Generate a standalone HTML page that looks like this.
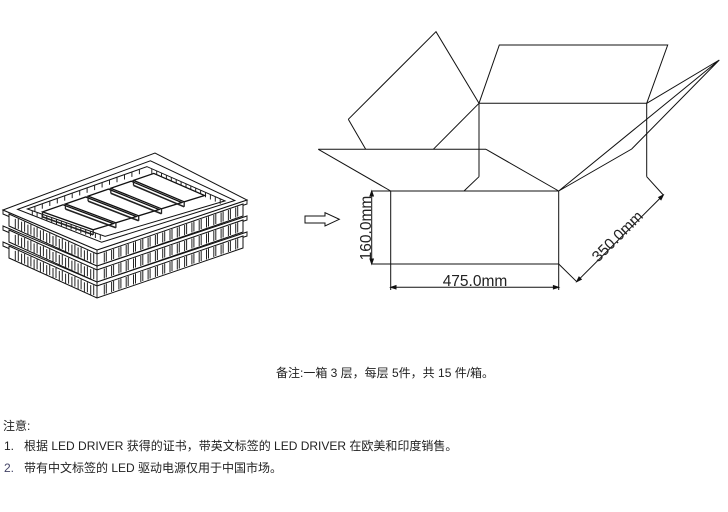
<!DOCTYPE html>
<html><head><meta charset="utf-8"><style>
body{margin:0;background:#fff;width:728px;height:512px;overflow:hidden;position:relative;font-family:"Liberation Sans","Noto Sans CJK SC",sans-serif;}
.t{position:absolute;font-size:12px;color:#222;white-space:nowrap;}
svg{position:absolute;left:0;top:0}
</style></head><body>
<svg width="728" height="512" viewBox="0 0 728 512" fill="none" stroke="#111" stroke-width="1">
<g id="tray"></g>
<polygon points="305,216 325,216 325,212.7 339.3,219.3 325,226 325,223 305,223"/>
<rect x="390.7" y="191" width="168" height="73"/>
<polyline points="318.3,149.3 390.7,191"/>
<line x1="318.3" y1="149.3" x2="486" y2="149.3"/>
<line x1="486" y1="149.3" x2="558.7" y2="191"/>
<polyline points="348.3,119.3 436,31.7 479,103.3"/>
<line x1="348.3" y1="119.3" x2="365.7" y2="149.3"/>
<line x1="433.3" y1="149.3" x2="479" y2="103.3"/>
<polyline points="479,103.3 499.3,45 667.7,45 646.7,103.3"/>
<line x1="479" y1="103.3" x2="646.7" y2="103.3"/>
<line x1="479" y1="103.3" x2="479" y2="176.7"/>
<line x1="479" y1="176.7" x2="464" y2="191"/>
<line x1="646.7" y1="103.3" x2="646.7" y2="176.7"/>
<polyline points="646.7,103.3 719.3,60 631.7,149 558.7,191 719.3,60"/>
<line x1="646.7" y1="176.7" x2="663.3" y2="195"/>
<line x1="558.7" y1="264" x2="576.7" y2="281.7"/>
<line x1="371.7" y1="191" x2="390.7" y2="191"/>
<line x1="371.7" y1="264" x2="390.7" y2="264"/>
<line x1="371.7" y1="191" x2="371.7" y2="264"/>
<polygon points="371.7,191 370,196 373.4,196" fill="#111"/>
<polygon points="371.7,264 370,259 373.4,259" fill="#111"/>
<line x1="390.7" y1="264" x2="390.7" y2="290"/>
<line x1="558.7" y1="264" x2="558.7" y2="290"/>
<line x1="390.7" y1="287.3" x2="558.7" y2="287.3"/>
<polygon points="390.7,287.3 396,285.6 396,289" fill="#111"/>
<polygon points="558.7,287.3 553.4,285.6 553.4,289" fill="#111"/>
<line x1="576.7" y1="281.7" x2="663.3" y2="195"/>
<polygon points="576.7,281.7 579,277 581.3,279.4" fill="#111"/>
<polygon points="663.3,195 661,199.7 658.7,197.3" fill="#111"/>
<g fill="#222" stroke="none" font-family="Liberation Sans, sans-serif" font-size="15.5">
<text x="475" y="286" text-anchor="middle">475.0mm</text>
<text transform="translate(371,228) rotate(-90)" text-anchor="middle">160.0mm</text>
<text transform="translate(621,240) rotate(-45)" text-anchor="middle">350.0mm</text>
</g>
</svg>
<div class="t" style="left:276px;top:364px;">备注:一箱 3 层，每层 5件，共 15 件/箱。</div>
<div class="t" style="left:3px;top:417px;">注意:</div>
<div class="t" style="left:4px;top:437px;">1.&nbsp;&nbsp;&nbsp;根据 LED DRIVER 获得的证书，带英文标签的 LED DRIVER 在欧美和印度销售。</div>
<div class="t" style="left:4px;top:459px;"><span style="color:#446">2.</span>&nbsp;&nbsp;&nbsp;带有中文标签的 LED 驱动电源仅用于中国市场。</div>
<script>
(function(){
var g=document.getElementById('tray'),s='';
function L(a,b,c,d,w,col){s+='<line x1="'+a.toFixed(1)+'" y1="'+b.toFixed(1)+'" x2="'+c.toFixed(1)+'" y2="'+d.toFixed(1)+'" stroke="'+(col||'#222')+'" stroke-width="'+(w||1)+'"/>';}
function P(pts,w){s+='<polygon points="'+pts.map(function(p){return p[0].toFixed(1)+','+p[1].toFixed(1)}).join(' ')+'" stroke-width="'+(w||1)+'" fill="#fff"/>';}
var A=[3,210],B=[155,153],C=[247,200],D=[97,250];
function lerp(p,q,t){return [p[0]+(q[0]-p[0])*t,p[1]+(q[1]-p[1])*t];}
for(var k=2;k>=0;k--){
 var o=k*16;
 var a=[A[0],A[1]+o],b=[B[0],B[1]+o],c=[C[0],C[1]+o],d=[D[0],D[1]+o];
 P([a,d,c,[c[0],c[1]+4],[d[0],d[1]+4],[a[0],a[1]+4]]);
 P([[a[0]+6,a[1]+4],[d[0],d[1]+4],[c[0]-4,c[1]+4],[c[0]-4,c[1]+16],[d[0],d[1]+16],[a[0]+6,a[1]+16]]);
 if(k==0){P([a,b,c,d],1);}
 L(a[0],a[1],a[0],a[1]+4);L(d[0],d[1],d[0],d[1]+16);L(c[0],c[1],c[0],c[1]+4);
 for(var i=1;i<14;i++){var p=lerp([a[0]+6,a[1]+4],[d[0],d[1]+4],i/14);L(p[0],p[1]+2,p[0],p[1]+12);L(p[0]+3,p[1]+2,p[0]+3,p[1]+12);}
 for(var i=1;i<20;i++){var p=lerp([d[0],d[1]+4],[c[0]-4,c[1]+4],i/20);L(p[0],p[1]+1,p[0],p[1]+11);L(p[0]+2,p[1],p[0]+2,p[1]+10);}
}
var ia=lerp(A,C,0.06),ib=lerp(B,D,0.08),ic=lerp(C,A,0.05),id=lerp(D,B,0.08);
P([ia,ib,ic,id]);
var ja=lerp(A,C,0.1),jb=lerp(B,D,0.14),jc=lerp(C,A,0.09),jd=lerp(D,B,0.14);
P([ja,jb,jc,jd]);
for(var i=1;i<16;i++){var p=lerp(ja,jb,i/16);L(p[0],p[1],p[0],p[1]+5);var q=lerp(jb,jc,i/16);L(q[0],q[1],q[0],q[1]+5);var r=lerp(ja,jd,i/16);L(r[0],r[1],r[0],r[1]+5);}
for(var i=0;i<5;i++){
 var t0=0.03+i*0.19,t1=t0+0.17;
 var p0=lerp(ja,jb,t0),p1=lerp(ja,jb,t1),q0=lerp(jd,jc,t0),q1=lerp(jd,jc,t1);
 var u0=lerp(p0,q0,0.15),u1=lerp(p1,q1,0.15),v0=lerp(p0,q0,0.8),v1=lerp(p1,q1,0.8);
 P([u0,u1,v1,v0],1.3);
 L(u0[0],u0[1],u0[0],u0[1]+5,1.3);L(v0[0],v0[1],v0[0],v0[1]+5,1.3);
 L(u0[0],u0[1]+5,v0[0],v0[1]+5,1.6);
}
g.innerHTML=s;
})();
</script>
</body></html>
